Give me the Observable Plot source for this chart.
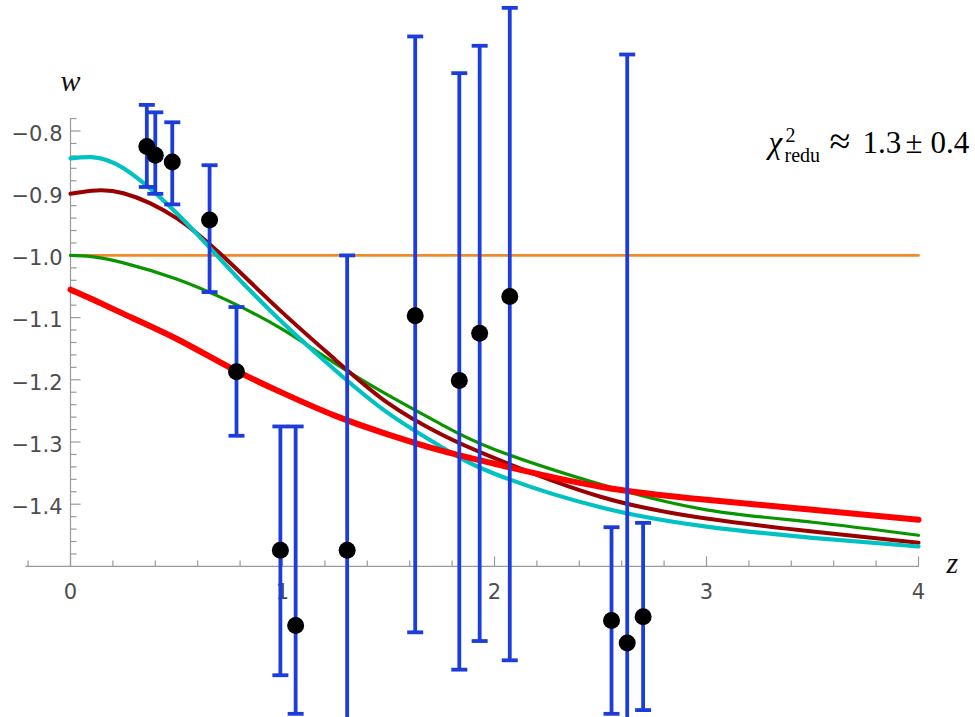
<!DOCTYPE html>
<html>
<head>
<meta charset="utf-8">
<script src="https://cdn.jsdelivr.net/npm/d3@7"></script>
<script src="https://cdn.jsdelivr.net/npm/@observablehq/plot@0.6"></script>
<style>
  html, body { margin: 0; padding: 0; background: #fff; }
  #chart svg { display: block; }
</style>
</head>
<body>
<div id="chart"></div>
<script>
// ---- curve samples ----
const zGrid   = [0, 0.1, 0.25, 0.5, 0.75, 1.0, 1.25, 1.5, 1.75, 2.0, 2.5, 3.0, 3.5, 4.0];
const wCyan   = [-0.844, -0.842, -0.860, -0.932, -1.022, -1.108, -1.185, -1.254, -1.308, -1.351, -1.405, -1.436, -1.454, -1.468];
const wDarkRed= [-0.901, -0.896, -0.900, -0.940, -1.011, -1.092, -1.168, -1.238, -1.288, -1.326, -1.388, -1.423, -1.444, -1.462];
const wGreen  = [-1.000, -1.002, -1.012, -1.038, -1.074, -1.119, -1.174, -1.225, -1.272, -1.312, -1.368, -1.409, -1.429, -1.450];
const wRed    = [-1.055, -1.070, -1.094, -1.134, -1.180, -1.221, -1.258, -1.288, -1.314, -1.335, -1.372, -1.393, -1.409, -1.425];
const zFlat   = [0, 4];
const wFlat   = [-1.0, -1.0];

// ---- data points with error bars ----
const obsZ  = [0.36, 0.40, 0.48, 0.656, 0.783, 0.99, 1.062, 1.305, 1.626, 1.834, 1.93, 2.072, 2.552, 2.626, 2.701];
const obsW  = [-0.825, -0.839, -0.850, -0.943, -1.187, -1.474, -1.595, -1.474, -1.097, -1.201, -1.125, -1.066, -1.587, -1.623, -1.581];
const obsLo = [-0.890, -0.901, -0.918, -1.059, -1.290, -1.675, -1.737, -1.950, -1.606, -1.666, -1.620, -1.651, -1.737, -2.570, -1.731];
const obsHi = [-0.758, -0.770, -0.786, -0.855, -1.083, -1.275, -1.275, -1.000, -0.648, -0.707, -0.663, -0.602, -1.437, -0.677, -1.430];

// ---- axes ----
const xMajor = [0, 1, 2, 3, 4];
const xLabels = ["0", "1", "2", "3", "4"];
const xMinor = [-0.2, 0.2, 0.4, 0.6, 0.8, 1.2, 1.4, 1.6, 1.8, 2.2, 2.4, 2.6, 2.8, 3.2, 3.4, 3.6, 3.8];
const yMajor = [-1.4, -1.3, -1.2, -1.1, -1.0, -0.9, -0.8];
const yLabels = ["\u22121.4", "\u22121.3", "\u22121.2", "\u22121.1", "\u22121.0", "\u22120.9", "\u22120.8"];
const yMinor = [-1.48, -1.46, -1.44, -1.42, -1.38, -1.36, -1.34, -1.32, -1.28, -1.26, -1.24, -1.22,
                -1.18, -1.16, -1.14, -1.12, -1.08, -1.06, -1.04, -1.02, -0.98, -0.96, -0.94, -0.92,
                -0.88, -0.86, -0.84, -0.82, -0.78];
const xAxisSpan = [-0.21, 4];
const yAxisSpan = [-1.5, -0.78];
const axisCrossW = -1.5;
const axisCrossZ = 0;

// ---- build tables ----
const curves = [
  {name: "flat",    z: zFlat, w: wFlat,    color: "#f28a2a", width: 2.6},
  {name: "green",   z: zGrid, w: wGreen,   color: "#0a9400", width: 3.2},
  {name: "darkred", z: zGrid, w: wDarkRed, color: "#990000", width: 4},
  {name: "cyan",    z: zGrid, w: wCyan,    color: "#00c2c2", width: 4.2},
  {name: "red",     z: zGrid, w: wRed,     color: "#ff0000", width: 6}
];
const pts = obsZ.map((z, i) => ({z, w: obsW[i], lo: obsLo[i], hi: obsHi[i]}));

const tickSym = (dx, dy) => ({draw(ctx) { ctx.moveTo(0, 0); ctx.lineTo(dx, dy); }});
const capSym = {draw(ctx) { ctx.moveTo(-8, 0); ctx.lineTo(8, 0); }};

const axisColor = "#9a9a9a";
const labelColor = "#4d4d4d";
const blue = "#1c3ddc";

const marks = [];
// axis lines
marks.push(Plot.line(xAxisSpan.map(z => ({z, w: axisCrossW})), {x: "z", y: "w", stroke: axisColor, strokeWidth: 1.2}));
marks.push(Plot.line(yAxisSpan.map(w => ({z: axisCrossZ, w})), {x: "z", y: "w", stroke: axisColor, strokeWidth: 1.2}));
// ticks (inward)
marks.push(Plot.dot(xMajor, {x: d => d, y: () => axisCrossW, symbol: tickSym(0, -10), r: 5, fill: "none", stroke: axisColor, strokeWidth: 1.2}));
marks.push(Plot.dot(xMinor, {x: d => d, y: () => axisCrossW, symbol: tickSym(0, -6), r: 5, fill: "none", stroke: axisColor, strokeWidth: 1.2}));
marks.push(Plot.dot(yMajor, {x: () => axisCrossZ, y: d => d, symbol: tickSym(10, 0), r: 5, fill: "none", stroke: axisColor, strokeWidth: 1.2}));
marks.push(Plot.dot(yMinor, {x: () => axisCrossZ, y: d => d, symbol: tickSym(6, 0), r: 5, fill: "none", stroke: axisColor, strokeWidth: 1.2}));
// tick labels
marks.push(Plot.text(xMajor, {x: d => d, y: () => axisCrossW, text: (d, i) => xLabels[i], dy: 26, lineAnchor: "middle",
  fontFamily: "DejaVu Sans", fontSize: 21, fill: labelColor}));
marks.push(Plot.text(yMajor, {x: () => axisCrossZ, y: d => d, text: (d, i) => yLabels[i], dx: -8, dy: 3, textAnchor: "end", lineAnchor: "middle",
  fontFamily: "DejaVu Sans", fontSize: 21, fill: labelColor}));
// axis titles
marks.push(Plot.text(["w"], {x: () => axisCrossZ, y: () => yAxisSpan[1], text: d => d, dy: -28, lineAnchor: "bottom",
  fontFamily: "Liberation Serif", fontStyle: "italic", fontSize: 30, fill: "#111"}));
marks.push(Plot.text(["z"], {x: () => xAxisSpan[1], y: () => axisCrossW, text: d => d, dx: 28, dy: 7, textAnchor: "start", lineAnchor: "bottom",
  fontFamily: "Liberation Serif", fontStyle: "italic", fontSize: 30, fill: "#111"}));
// curves
for (const c of curves) {
  const rows = c.z.map((z, i) => ({z, w: c.w[i]}));
  marks.push(Plot.line(rows, {x: "z", y: "w", stroke: c.color, strokeWidth: c.width, curve: "natural"}));
}
// error bars
marks.push(Plot.ruleX(pts, {x: "z", y1: "lo", y2: "hi", stroke: blue, strokeWidth: 3.8}));
marks.push(Plot.dot(pts, {x: "z", y: "lo", symbol: capSym, r: 5, fill: "none", stroke: blue, strokeWidth: 3.8}));
marks.push(Plot.dot(pts, {x: "z", y: "hi", symbol: capSym, r: 5, fill: "none", stroke: blue, strokeWidth: 3.8}));
// points
marks.push(Plot.dot(pts, {x: "z", y: "w", r: 8.5, fill: "#000", stroke: "none"}));

const chart = Plot.plot({
  width: 975,
  height: 717,
  margin: 0,
  style: {background: "#fff", overflow: "hidden"},
  x: {domain: [0, 4], range: [70, 918], axis: null},
  y: {domain: [-1.5, -0.8], range: [565.9, 130.5], axis: null},
  marks
});
document.getElementById("chart").appendChild(chart);

// annotation with sub/superscripts
const annotZ = 3.295, annotW = -0.836;
const ax = chart.scale("x").apply(annotZ);
const ay = chart.scale("y").apply(annotW);
const t = d3.select(chart).append("text")
  .attr("font-family", "'Liberation Serif', 'Times New Roman', serif")
  .attr("font-size", 31)
  .attr("text-anchor", "start")
  .attr("fill", "#000");
t.append("tspan").attr("x", ax).attr("y", ay).attr("font-style", "italic").text("\u03c7");
t.append("tspan").attr("x", ax + 17).attr("y", ay - 11).attr("font-size", 20).text("2");
t.append("tspan").attr("x", ax + 16).attr("y", ay + 9).attr("font-size", 20).text("redu");
t.append("tspan").attr("x", ax + 61).attr("y", ay + 1).attr("font-size", 38).text("\u2248");
t.append("tspan").attr("x", ax + 94).attr("y", ay).text("1.3");
t.append("tspan").attr("x", ax + 137).attr("y", ay).text("\u00b1");
t.append("tspan").attr("x", ax + 162).attr("y", ay).text("0.4");
</script>
</body>
</html>
